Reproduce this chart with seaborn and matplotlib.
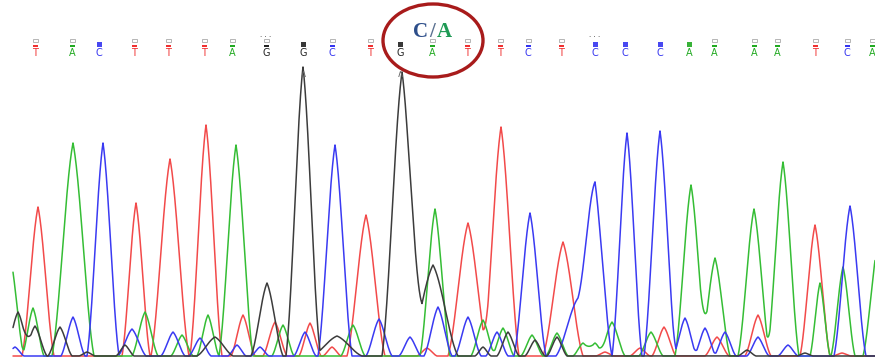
import numpy as np
import pandas as pd
import matplotlib
matplotlib.use("Agg")
import matplotlib.pyplot as plt
import seaborn as sns
from matplotlib.patches import Ellipse, Rectangle

# ---- base calls (top row) ----
bases = list("TACTTTAGGCTGATTCTCCCAAAATCA")
base_pos = [35, 72, 99, 134, 168, 204, 232, 266, 303, 332, 370, 400, 432,
            467, 500, 528, 561, 595, 625, 660, 689, 714, 754, 777, 815, 847, 872]
base_qual = [1, 1, 2, 1, 1, 1, 1, 1, 2, 1, 1, 2, 1,
             1, 1, 1, 1, 2, 2, 2, 2, 1, 1, 1, 1, 1, 1]
dotted_bases = [266, 595]
marked_bases = [303, 400]

# ---- trace peaks per channel: position, height, width ----
red_pos = [38, 136, 170, 206, 243, 275, 310, 332, 366, 427, 468, 501, 563, 605, 640, 664, 717, 758, 815, 842]
red_h   = [149, 153, 197, 231, 41, 34, 33, 9, 141, 8, 133, 229, 114, 4, 8, 29, 19, 41, 131, 3]
red_w   = [16, 14, 19, 16, 12, 12, 11, 9, 19, 10, 20, 18, 20, 9, 10, 12, 12, 13, 15, 9]

green_pos = [10, 33, 73, 145, 182, 208, 236, 283, 353, 435, 483, 503, 532, 557, 583, 595, 612, 651, 691, 715, 754, 783, 820, 843, 878]
green_h   = [100, 48, 213, 44, 21, 41, 211, 31, 31, 147, 36, 28, 21, 23, 13, 13, 34, 24, 171, 98, 147, 194, 73, 89, 112]
green_w   = [14, 11, 21, 13, 11, 11, 17, 11, 12, 15, 12, 11, 11, 11, 10, 10, 13, 12, 16, 15, 16, 16, 10, 12, 15]

blue_pos = [15, 73, 103, 132, 173, 200, 237, 260, 305, 335, 379, 410, 438, 468, 497, 530, 578, 595, 627, 660, 685, 705, 725, 758, 788, 850]
blue_h   = [9, 39, 213, 27, 24, 18, 11, 9, 24, 211, 37, 19, 49, 39, 24, 143, 58, 164, 223, 225, 38, 28, 24, 19, 11, 150]
blue_w   = [9, 12, 16, 14, 12, 11, 9, 9, 11, 17, 13, 11, 14, 13, 11, 16, 22, 17, 15, 16, 12, 11, 11, 11, 10, 16]

black_pos = [18, 35, 60, 87, 125, 215, 267, 303, 337, 402, 433, 483, 508, 535, 557, 747, 805]
black_h   = [44, 30, 29, 4, 11, 19, 73, 289, 20, 284, 91, 9, 24, 16, 19, 6, 3]
black_w   = [13, 12, 12, 8, 9, 18, 16, 17, 25, 20, 25, 8, 11, 10, 10, 9, 8]

x_start, x_end = 13, 875

channels = {
    "T": (red_pos, red_h, red_w),
    "A": (green_pos, green_h, green_w),
    "C": (blue_pos, blue_h, blue_w),
    "G": (black_pos, black_h, black_w),
}
line_colors = {"T": "#f24a4a", "A": "#35bd35", "C": "#3a3af2", "G": "#3c3c3c"}
text_colors = {"T": "#f03030", "A": "#22aa22", "C": "#3434f0", "G": "#222222"}

xs = np.arange(x_start, x_end + 0.25, 0.25)
frames = []
for b, (pp, hh, ww) in channels.items():
    sig = np.zeros_like(xs)
    for p, h, w in zip(pp, hh, ww):
        d = np.abs(xs - p)
        u = np.clip(d / w, 0, 1)
        shape = 0.5 * (1 - u) + 0.5 * np.cos(np.pi * u / 2) ** 2
        sig += h * shape
    frames.append(pd.DataFrame({"x": xs, "signal": sig, "base": b}))
df = pd.concat(frames, ignore_index=True)

sns.set_style("white")
fig = plt.figure(figsize=(8.75, 3.59), dpi=100)
ax = fig.add_axes([0, 0, 1, 1])
sns.lineplot(data=df, x="x", y="signal", hue="base", palette=line_colors,
             estimator=None, sort=False, legend=False, linewidth=1.1, ax=ax)

ax.set_xlim(0, 875)
ax.set_ylim(-3, 356)
ax.set_axis_off()

# base call letters and quality boxes
for b, p, q in zip(bases, base_pos, base_qual):
    c = text_colors[b]
    ax.text(p, 356 - 53, b, color=c, fontsize=7, ha="center", va="center",
            family="DejaVu Sans")
    if q == 2:
        ax.add_patch(Rectangle((p - 2.5, 356 - 46.5), 5, 5, facecolor=c,
                               edgecolor="none", alpha=0.9))
    else:
        ax.add_patch(Rectangle((p - 2.5, 356 - 42), 5, 3.5, facecolor="none",
                               edgecolor="#aaaaaa", lw=0.6))
        ax.add_patch(Rectangle((p - 2.5, 356 - 46.5), 5, 2, facecolor=c,
                               edgecolor="none"))
for p in dotted_bases:
    ax.text(p, 356 - 37, "· · ·", color="#333333", fontsize=5, ha="center", va="center")
for p in marked_bases:
    ax.text(p, 356 - 74, "∧", color="#666666", fontsize=7, ha="center", va="center")

# highlighted heterozygous call
ax.add_patch(Ellipse((433, 356 - 40.5), width=100, height=73, fill=False,
                     edgecolor="#a81b1b", lw=2.4))
ax.text(421, 356 - 32, "C", color="#2d4e8a", fontsize=15, fontweight="bold",
        family="Liberation Serif", ha="center", va="center")
ax.text(432, 356 - 32, "/", color="#5a7090", fontsize=15, fontweight="bold",
        family="Liberation Serif", ha="center", va="center")
ax.text(444, 356 - 32, "A", color="#1f9a55", fontsize=15, fontweight="bold",
        family="Liberation Serif", ha="center", va="center")

fig.savefig("out.png", dpi=100)
